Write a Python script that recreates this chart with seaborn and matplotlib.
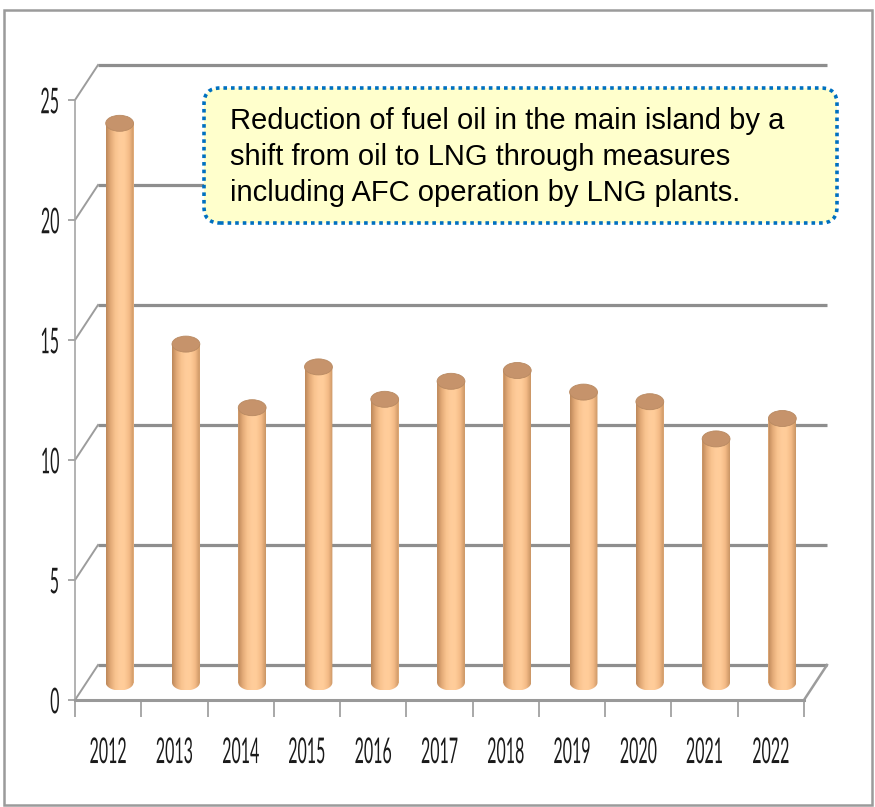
import numpy as np
import matplotlib
matplotlib.use("Agg")
import matplotlib.pyplot as plt
import seaborn as sns
from matplotlib.patches import Ellipse, PathPatch, FancyBboxPatch, Rectangle
from matplotlib.path import Path
from matplotlib.patheffects import AbstractPathEffect
from matplotlib.transforms import Affine2D
from matplotlib.colors import LinearSegmentedColormap

# ---- data -------------------------------------------------------------
years = ["2012", "2013", "2014", "2015", "2016", "2017",
         "2018", "2019", "2020", "2021", "2022"]
values = [23.3, 14.1, 11.45, 13.15, 11.8, 12.55, 13.0, 12.1, 11.7, 10.15, 11.0]
y_ticks = [0, 5, 10, 15, 20, 25]
note = ("Reduction of fuel oil in the main island by a\n"
        "shift from oil to LNG through measures\n"
        "including AFC operation by LNG plants.")


class Narrow(AbstractPathEffect):
    """Draw text squeezed horizontally and stretched vertically (tall, condensed look)."""

    def __init__(self, sx=0.6, sy=1.3, anchor="center"):
        super().__init__()
        self.sx = sx
        self.sy = sy
        self.anchor = anchor

    def draw_path(self, renderer, gc, tpath, affine, rgbFace=None):
        ext = tpath.get_extents(affine)
        px = ext.x1 if self.anchor == "right" else 0.5 * (ext.x0 + ext.x1)
        py = 0.5 * (ext.y0 + ext.y1)
        squeeze = (Affine2D().translate(-px, -py)
                   .scale(self.sx, self.sy).translate(px, py))
        renderer.draw_path(gc, tpath, affine + squeeze, rgbFace)


W, H, DPI = 875, 807, 100
fig = plt.figure(figsize=(W / DPI, H / DPI), dpi=DPI, facecolor="white")
AX_L, AX_B, AX_W, AX_H = 75, 107, 729, 600
ax = fig.add_axes([AX_L / W, AX_B / H, AX_W / W, AX_H / H])
ax.set_facecolor("none")

sns.barplot(x=years, y=values, ax=ax, width=0.42, color="#fac591",
            saturation=1, linewidth=0, zorder=3)

n = len(years)
ymax = y_ticks[-1]
ax.set_xlim(-0.5, n - 0.5)
ax.set_ylim(0, ymax)

# depth of the pseudo-3D box, expressed in data units
px_cat = AX_W / n
px_unit = AX_H / ymax
DX = 23 / px_cat
DY = 35 / px_unit
CAP = 16 / px_unit

# back wall gridlines and side-wall diagonals
for v in y_ticks:
    ax.plot([-0.5 + DX, n - 0.5 + DX], [v + DY, v + DY], color="#8e8e8e",
            lw=2.3, solid_capstyle="butt", clip_on=False, zorder=1)
    ax.plot([-0.5, -0.5 + DX], [v, v + DY], color="#9c9c9c", lw=1.4,
            clip_on=False, zorder=1)
ax.plot([n - 0.5, n - 0.5 + DX], [0, DY], color="#9c9c9c", lw=1.8,
        clip_on=False, zorder=1)

# cylinders: shift seaborn's bars to mid depth and shade them
cyl = LinearSegmentedColormap.from_list(
    "cyl", ["#bb8759", "#e3aa77", "#f9c38f", "#ffcd9b", "#ffcc99", "#f4bb86", "#c99464"])
grad = np.linspace(0, 1, 256).reshape(1, -1)
bars = list(ax.patches)
for bar in bars:
    x0 = bar.get_x() + DX / 2
    w = bar.get_width()
    base = DY / 2
    top = bar.get_height() + DY / 2
    bar.set_x(x0)
    bar.set_y(base)
    bar.set_height(top - base)
    xc = x0 + w / 2
    t = np.linspace(np.pi, 2 * np.pi, 40)
    arc = np.column_stack([xc + w / 2 * np.cos(t), base + CAP / 2 * np.sin(t)])
    verts = np.vstack([[[x0, top]], arc, [[x0 + w, top]], [[x0, top]]])
    codes = [Path.MOVETO] + [Path.LINETO] * (len(verts) - 2) + [Path.CLOSEPOLY]
    body = PathPatch(Path(verts, codes), transform=ax.transData, fc="none", ec="none")
    im = ax.imshow(grad, cmap=cyl, extent=[x0, x0 + w, base - CAP / 2, top],
                   aspect="auto", interpolation="bilinear", zorder=3.5)
    im.set_clip_path(body)
    ax.add_patch(Ellipse((xc, top), w, CAP, fc="#c6936b", ec="#b98a62",
                         lw=0.6, zorder=4))

ax.set_xlim(-0.5, n - 0.5)
ax.set_ylim(0, ymax)

# axes
for s in ["top", "right"]:
    ax.spines[s].set_visible(False)
ax.spines["left"].set_color("#a6a6a6")
ax.spines["left"].set_linewidth(1.2)
ax.spines["bottom"].set_color("#999999")
ax.spines["bottom"].set_linewidth(2.2)

ax.set_yticks(y_ticks)
ax.set_yticklabels([str(v) for v in y_ticks])
ax.tick_params(axis="y", length=5, width=1.2, color="#999999", pad=6,
               labelsize=18, labelcolor="#1a1a1a")
ax.set_xticks(range(n))
ax.set_xticklabels(years)
ax.set_xticks(np.arange(-0.5, n), minor=True)
ax.tick_params(axis="x", which="major", length=0, pad=29, labelsize=18,
               labelcolor="#1a1a1a")
ax.tick_params(axis="x", which="minor", length=12, width=1.2, color="#999999")
ax.set_xlabel("")
ax.set_ylabel("")

for lbl in ax.get_xticklabels():
    lbl.set_fontfamily(["Lato", "DejaVu Sans"])
    lbl.set_path_effects([Narrow(0.64, 1.42, "center")])
for lbl in ax.get_yticklabels():
    lbl.set_fontfamily(["Lato", "DejaVu Sans"])
    lbl.set_path_effects([Narrow(0.64, 1.42, "right")])

# outer frame
fig.add_artist(Rectangle((4 / W, 2 / H), 868 / W, 795 / H, transform=fig.transFigure,
                         fill=False, ec="#9b9b9b", lw=1.8))

# callout box
fig.add_artist(FancyBboxPatch((2.04, (H - 223) / DPI), 6.33, 1.35,
                              boxstyle="round,pad=0,rounding_size=0.16",
                              transform=fig.dpi_scale_trans, fc="#ffffcc",
                              ec="#0070c0", lw=2.6, ls=(0, (1.0, 1.1))))
fig.text(2.30, (H - 157) / DPI, note, transform=fig.dpi_scale_trans,
         ha="left", va="center", fontsize=21, linespacing=1.35,
         family=["Liberation Sans", "DejaVu Sans"], color="black")

fig.savefig("out.png", dpi=DPI, facecolor="white")
